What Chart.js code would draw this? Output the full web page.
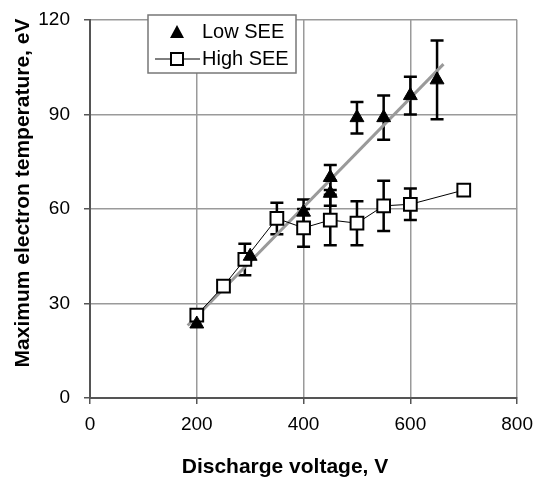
<!DOCTYPE html>
<html>
<head>
<meta charset="utf-8">
<script src="https://cdn.jsdelivr.net/npm/chart.js@4.4.1/dist/chart.umd.min.js"></script>
<style>
  html, body { margin: 0; padding: 0; background: #fff; }
  #wrap { width: 542px; height: 483px; }
</style>
</head>
<body>
<div id="wrap"><canvas id="chart" width="542" height="483"></canvas></div>
<script>
// Low SEE (filled triangles)
const lowV = [200, 300, 400, 450, 450, 500, 550, 600, 650];
const lowT = [23.5, 45, 59, 65, 70, 89, 89, 96, 101];
const lowErr = [0, 0, 4, 4, 4, 5, 7, 6, 12.5];

// High SEE (open squares, joined)
const highV = [200, 250, 290, 350, 400, 450, 500, 550, 600, 700];
const highT = [26.3, 35.5, 44, 57, 54, 56.5, 55.5, 61, 61.5, 66];
const highErr = [0, 0, 5, 5, 6, 8, 7, 8, 5, 1.5];

// grey fit line through Low SEE
const fitV = [183, 662];
const fitT = [23, 106];

const xTicks = [0, 200, 400, 600, 800];
const yTicks = [0, 30, 60, 90, 120];

const FONT = "'Liberation Sans', Arial, sans-serif";
const toPts = (xs, ys) => xs.map((x, i) => ({ x: x, y: ys[i] }));

// error bars, drawn under the markers
const errorBars = {
  id: "errorBars",
  beforeDatasetsDraw(chart) {
    const ctx = chart.ctx;
    const xs = chart.scales.x, ys = chart.scales.y;
    const sets = [[lowV, lowT, lowErr], [highV, highT, highErr]];
    ctx.save();
    ctx.strokeStyle = "#000";
    ctx.lineWidth = 2.5;
    sets.forEach(([v, t, e]) => {
      v.forEach((vx, i) => {
        if (!e[i]) return;
        const px = xs.getPixelForValue(vx);
        const top = ys.getPixelForValue(t[i] + e[i]);
        const bot = ys.getPixelForValue(t[i] - e[i]);
        ctx.beginPath();
        ctx.moveTo(px, top); ctx.lineTo(px, bot);
        ctx.moveTo(px - 6.5, top); ctx.lineTo(px + 6.5, top);
        ctx.moveTo(px - 6.5, bot); ctx.lineTo(px + 6.5, bot);
        ctx.stroke();
      });
    });
    ctx.restore();
  },
};

// legend box + axis titles
const extras = {
  id: "extras",
  afterDraw(chart) {
    const ctx = chart.ctx;
    ctx.save();
    ctx.fillStyle = "#fff";
    ctx.strokeStyle = "#777";
    ctx.lineWidth = 1.5;
    ctx.fillRect(148, 15, 148, 58);
    ctx.strokeRect(148, 15, 148, 58);

    // triangle
    ctx.fillStyle = "#000";
    ctx.beginPath();
    ctx.moveTo(177, 25); ctx.lineTo(184, 38); ctx.lineTo(170, 38);
    ctx.closePath(); ctx.fill();

    // line + square
    ctx.strokeStyle = "#000";
    ctx.lineWidth = 1;
    ctx.beginPath(); ctx.moveTo(155, 59); ctx.lineTo(200, 59); ctx.stroke();
    ctx.fillStyle = "#fff";
    ctx.lineWidth = 2;
    ctx.fillRect(171, 53, 12, 12);
    ctx.strokeRect(171, 53, 12, 12);

    ctx.fillStyle = "#000";
    ctx.font = "20px " + FONT;
    ctx.textBaseline = "middle";
    ctx.fillText("Low SEE", 202, 32);
    ctx.fillText("High SEE", 202, 59);

    ctx.font = "bold 21px " + FONT;
    ctx.textAlign = "center";
    ctx.fillText("Discharge voltage, V", 285, 467);

    ctx.translate(23, 193);
    ctx.rotate(-Math.PI / 2);
    ctx.fillText("Maximum electron temperature, eV", 0, 0);
    ctx.restore();
  },
};

const tickFont = { family: FONT, size: 19 };

new Chart(document.getElementById("chart").getContext("2d"), {
  type: "scatter",
  data: {
    datasets: [
      {
        label: "Low SEE",
        data: toPts(lowV, lowT),
        showLine: false,
        pointStyle: "triangle",
        pointRadius: 8,
        backgroundColor: "#000",
        borderColor: "#000",
        borderWidth: 1,
        order: 1,
      },
      {
        label: "High SEE",
        data: toPts(highV, highT),
        showLine: true,
        borderColor: "#000",
        borderWidth: 1,
        pointStyle: "rect",
        pointRadius: 9,
        pointBackgroundColor: "#fff",
        pointBorderColor: "#000",
        pointBorderWidth: 2,
        order: 2,
      },
      {
        label: "fit",
        data: toPts(fitV, fitT),
        showLine: true,
        borderColor: "#9a9a9a",
        borderWidth: 3,
        pointRadius: 0,
        order: 3,
      },
    ],
  },
  options: {
    responsive: false,
    animation: false,
    layout: { padding: { left: 0, right: 24, top: 20, bottom: 0 } },
    plugins: { legend: { display: false }, tooltip: { enabled: false } },
    scales: {
      x: {
        type: "linear",
        min: 0,
        max: 800,
        afterBuildTicks: (axis) => { axis.ticks = xTicks.map((v) => ({ value: v })); },
        afterFit: (axis) => { axis.height = 85; },
        ticks: { font: tickFont, color: "#000", padding: 9 },
        grid: { color: "#9a9a9a", lineWidth: 1.5, tickColor: "#555", tickLength: 6 },
        border: { color: "#555", width: 2 },
      },
      y: {
        type: "linear",
        min: 0,
        max: 120,
        afterBuildTicks: (axis) => { axis.ticks = yTicks.map((v) => ({ value: v })); },
        afterFit: (axis) => { axis.width = 90; axis.paddingTop = 8; axis.paddingBottom = 8; },
        ticks: { font: tickFont, color: "#000", padding: 14 },
        grid: { color: "#9a9a9a", lineWidth: 1.5, tickColor: "#555", tickLength: 6 },
        border: { color: "#555", width: 2 },
      },
    },
  },
  plugins: [errorBars, extras],
});
</script>
</body>
</html>
